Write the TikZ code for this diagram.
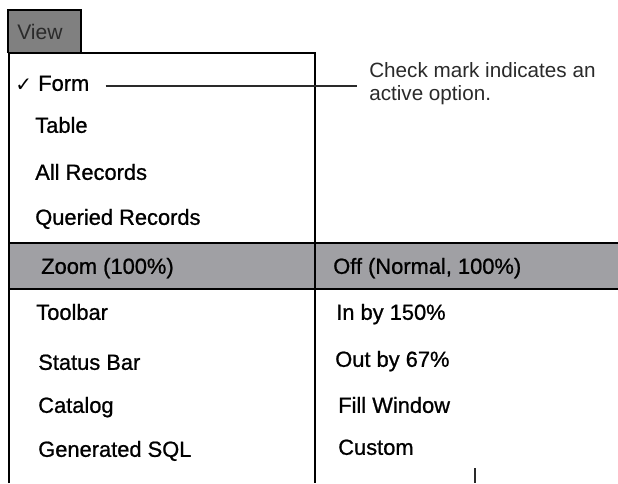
\documentclass[tikz,border=0pt]{standalone}
\usepackage{fontspec}
\setmainfont{Liberation Sans}
\newfontfamily\symfont{DejaVu Sans}
\newfontfamily\menufont[FakeBold=0.9]{Liberation Sans}
\definecolor{tabgray}{HTML}{808080}
\definecolor{bandgray}{HTML}{A0A0A4}
\definecolor{notegray}{HTML}{2A2A2A}
\begin{document}
\begin{tikzpicture}[x=0.75pt,y=-0.75pt,
  item/.style={anchor=west,inner sep=0pt,text height=0.72em,text depth=0pt,
    font=\menufont\fontsize{16.4pt}{18pt}\selectfont},
  thickline/.style={line width=2.2pt},
  note/.style={anchor=north west,inner sep=0pt,align=left,text=notegray,
    font=\fontsize{15.5pt}{17.3pt}\selectfont}]
\useasboundingbox[fill=white] (0,0) rectangle (618,483);
% band
\fill[bandgray] (9,243) rectangle (618,289);
% view tab
\draw[thickline,fill=tabgray] (8,53) |- (81,10) -- (81,53);
\node[item,text=notegray,font=\fontsize{15.8pt}{18pt}\selectfont] (view) at (17,35) {View};
% menu frame
\draw[thickline] (9,483) -- (9,53) -- (315,53) -- (315,483);
\draw[line width=1.9pt] (9,243) -- (618,243);
\draw[line width=1.9pt] (9,289) -- (618,289);
% items
\node[item,font=\symfont\fontsize{15pt}{17pt}\selectfont] (check) at (15,87) {✓};
\node[item] (form) at (38,86) {Form};
\node[item] (table) at (35,128) {Table};
\node[item] (all) at (35,175) {All Records};
\node[item] (queried) at (35,220) {Queried Records};
\node[item] (zoom) at (41,269) {Zoom (100\%)};
\node[item] (toolbar) at (36,315) {Toolbar};
\node[item] (status) at (38,365) {Status Bar};
\node[item] (catalog) at (38,408) {Catalog};
\node[item] (sql) at (38,452) {Generated SQL};
\node[item] (off) at (333,269) {Off (Normal, 100\%)};
\node[item] (in) at (336,315) {In by 150\%};
\node[item] (out) at (335,362) {Out by 67\%};
\node[item] (fill) at (338,408) {Fill Window};
\node[item] (custom) at (338,450) {Custom};
% annotation
\node[note] (note) at (369,62) {Check mark indicates an\\active option.};
\draw[line width=0.8pt,notegray] ([xshift=12]form.east) -- ([xshift=-9]note.west |- form.east);
% cursor
\coordinate (cur1) at (475,468);
\coordinate (cur2) at (475,483);
\draw[line width=1.2pt,notegray] (cur1) -- (cur2);
\end{tikzpicture}
\end{document}
